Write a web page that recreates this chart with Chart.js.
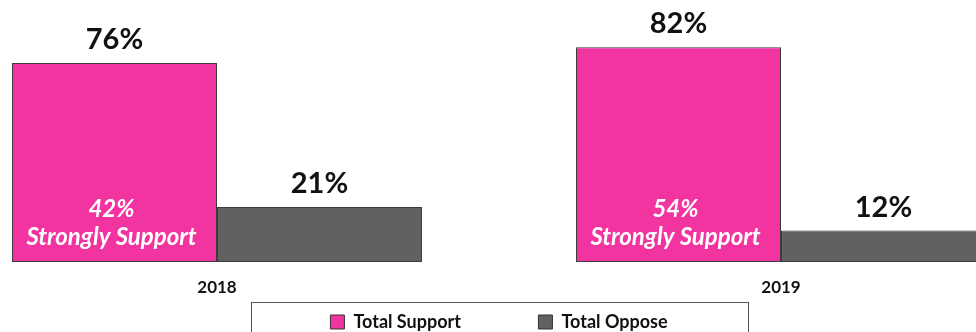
<!DOCTYPE html>
<html>
<head>
<meta charset="utf-8">
<script src="https://cdn.jsdelivr.net/npm/chart.js@4/dist/chart.umd.min.js"></script>
<style>
  html, body { margin: 0; padding: 0; background: #fff; overflow: hidden; width: 976px; height: 332px; }
  #wrap { position: relative; width: 976px; height: 332px; overflow: hidden; }
  #chart { position: absolute; left: -65px; top: 0; }
</style>
</head>
<body>
<div id="wrap"><canvas id="chart" width="1128" height="341"></canvas></div>
<script>
const years = ['2018', '2019'];
const totalSupport = [76, 82];
const totalOppose = [21, 12];
const stronglySupport = [42, 54];

const FONT = 'Lato, "Open Sans", sans-serif';

// value labels above bars + "strongly support" text inside pink bars
const barLabels = {
  id: 'barLabels',
  afterDatasetsDraw(chart) {
    const ctx = chart.ctx;
    ctx.save();
    ctx.textAlign = 'center';
    ctx.textBaseline = 'alphabetic';
    ctx.fillStyle = '#111';
    ctx.font = 'bold 29px ' + FONT;
    chart.data.datasets.forEach((ds, i) => {
      chart.getDatasetMeta(i).data.forEach((bar, j) => {
        ctx.fillText(ds.data[j] + '%', bar.x, bar.y - 14);
      });
    });
    ctx.fillStyle = '#fff';
    ctx.font = 'italic bold 24px ' + FONT;
    chart.getDatasetMeta(0).data.forEach((bar, j) => {
      ctx.fillText(stronglySupport[j] + '%', bar.x - 3, bar.base - 45);
      ctx.fillText('Strongly Support', bar.x - 3, bar.base - 17);
    });
    ctx.restore();
  }
};

// frame around the legend
const legendFrame = {
  id: 'legendFrame',
  afterDraw(chart) {
    const lg = chart.legend;
    if (!lg) return;
    const ctx = chart.ctx;
    const cx = lg.left + lg.width / 2;
    const w = 497;
    ctx.save();
    ctx.strokeStyle = '#555';
    ctx.lineWidth = 1;
    ctx.strokeRect(Math.round(cx - w / 2) + 0.5, Math.round(lg.top) - 0.5, w, 100);
    ctx.restore();
  }
};

new Chart(document.getElementById('chart'), {
  type: 'bar',
  data: {
    labels: years,
    datasets: [
      {
        label: 'Total Support',
        data: totalSupport,
        backgroundColor: '#F234A0',
        borderColor: '#3c3c3c',
        borderWidth: 1,
        borderSkipped: false
      },
      {
        label: 'Total Oppose',
        data: totalOppose,
        backgroundColor: '#616161',
        borderColor: '#3c3c3c',
        borderWidth: 1,
        borderSkipped: false
      }
    ]
  },
  options: {
    responsive: false,
    animation: false,
    categoryPercentage: 0.727,
    barPercentage: 1,
    layout: { padding: 0 },
    scales: {
      x: {
        grid: { display: false },
        border: { display: false },
        ticks: { color: '#111', font: { family: FONT, size: 17, weight: 'bold' }, padding: 7 },
        afterFit(scale) { scale.height = 41; }
      },
      y: {
        display: false,
        min: 0,
        max: 100
      }
    },
    plugins: {
      tooltip: { enabled: false },
      legend: {
        position: 'bottom',
        labels: {
          color: '#111',
          font: { family: FONT, size: 18, weight: 'bold' },
          boxWidth: 14,
          boxHeight: 14,
          padding: 10,
          generateLabels(chart) {
            const items = Chart.defaults.plugins.legend.labels.generateLabels(chart);
            items.forEach((it, i) => {
              it.lineWidth = 1;
              it.strokeStyle = '#333';
              if (i === 0) it.text = it.text + '\u2003\u2003\u2003\u2003\u2003';
            });
            return items;
          }
        }
      }
    }
  },
  plugins: [barLabels, legendFrame]
});
</script>
</body>
</html>
